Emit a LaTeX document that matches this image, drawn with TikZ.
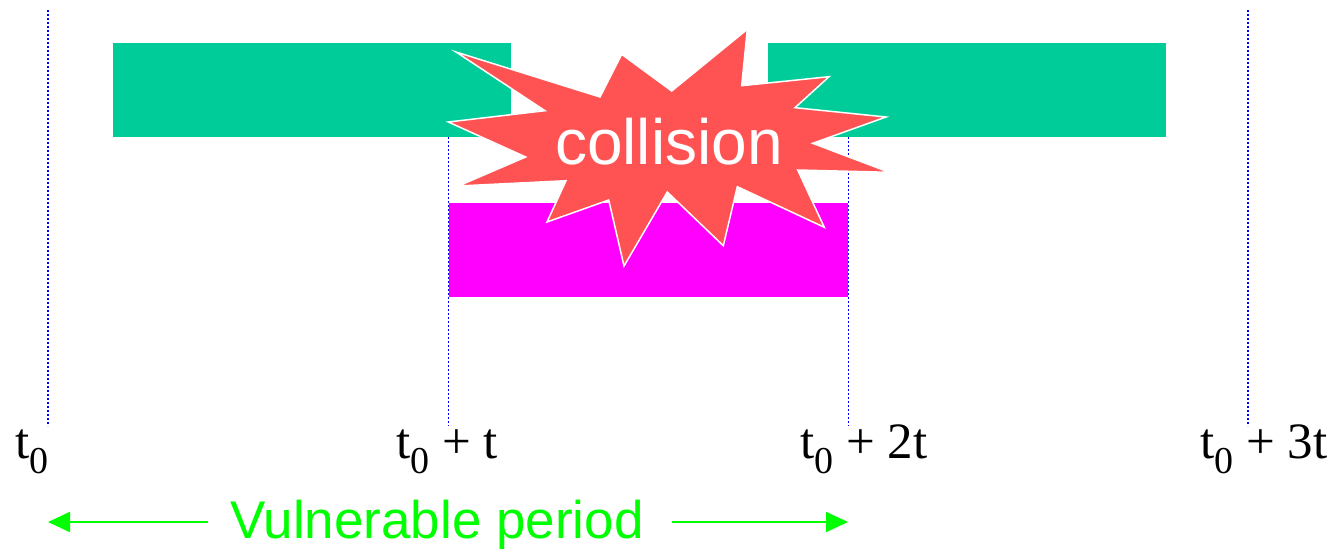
\documentclass[tikz,border=0pt]{standalone}
\usepackage{fontspec}
\setmainfont{Liberation Serif}
\newfontfamily\arialfont{Liberation Sans}
\usetikzlibrary{arrows.meta}
\definecolor{boxgreen}{HTML}{00CC99}
\definecolor{boxmagenta}{HTML}{FF00FF}
\definecolor{starred}{HTML}{FF5353}
\definecolor{vgreen}{HTML}{00FF00}
\definecolor{dotblue}{HTML}{0000FF}
\newcommand{\tsub}[1]{t\raisebox{-15pt}{\fontsize{38}{40}\selectfont 0}#1}
\tikzset{
  slotbox/.style={inner sep=0pt, outer sep=0pt, anchor=north west, minimum width=398pt, minimum height=94pt},
  guide/.style={dotblue, line width=1.6pt, dash pattern=on 1.6pt off 2.4pt},
  timelabel/.style={inner sep=0pt, anchor=base west, font=\fontsize{51}{60}\selectfont},
  vularrow/.style={vgreen, line width=2pt, -{Triangle[length=22pt,width=20pt]}},
}
\begin{document}
\begin{tikzpicture}[x=1pt,y=-1pt]
\useasboundingbox (0,0) rectangle (1337,552);
% frames
\node[slotbox, fill=boxgreen] (gl) at (113,43) {};
\node[slotbox, fill=boxgreen] (gr) at (768,43) {};
\node[slotbox, fill=boxmagenta, minimum width=399pt] (mg) at (449,203) {};
% guide lines
\coordinate (a0) at (48,10);   \coordinate (b0) at (48,426);
\coordinate (a1) at (448.6,137); \coordinate (b1) at (448.6,426);
\coordinate (a2) at (848.4,137); \coordinate (b2) at (848.4,426);
\coordinate (a3) at (1248,10); \coordinate (b3) at (1248,426);
\draw[guide] (a0) -- (b0);
\draw[guide] (a1) -- (b1);
\draw[guide] (a2) -- (b2);
\draw[guide] (a3) -- (b3);
% collision star
\filldraw[fill=starred, draw=white, line width=1.5pt, line join=miter]
  (747.3,29.3) -- (741.7,85.7) -- (829,76.7) -- (795,107.7) -- (886,117)
  -- (812.7,143.3) -- (889.3,172.3) -- (797.7,170) -- (824.3,227.3)
  -- (737.3,186.7) -- (723.3,245.7) -- (667.3,192) -- (624,266)
  -- (608.7,200) -- (547,222) -- (566,180.7) -- (458.3,186) -- (525.7,157)
  -- (448.3,122) -- (545,110.7) -- (456,52) -- (600,97) -- (621.7,54.3)
  -- (671.7,91) -- cycle;
\node[inner sep=0pt, anchor=base, text=white, font=\arialfont\fontsize{64}{70}\selectfont] (col) at (669,164) {collision};
% time labels
\node[timelabel] (l0) at (15,458) {\tsub{}};
\node[timelabel] (l1) at (396,458) {\tsub{ + t}};
\node[timelabel] (l2) at (800,458) {\tsub{ + 2t}};
\node[timelabel] (l3) at (1200,458) {\tsub{ + 3t}};
% vulnerable period
\node[inner sep=0pt, anchor=base west, text=vgreen, font=\arialfont\fontsize{53}{60}\selectfont] (vp) at (230,538) {Vulnerable period};
\coordinate (la) at (208,522); \coordinate (lb) at (48,522);
\coordinate (ra) at (672,522); \coordinate (rb) at (848,522);
\draw[vularrow] (la) -- (lb);
\draw[vularrow] (ra) -- (rb);
\end{tikzpicture}
\end{document}
